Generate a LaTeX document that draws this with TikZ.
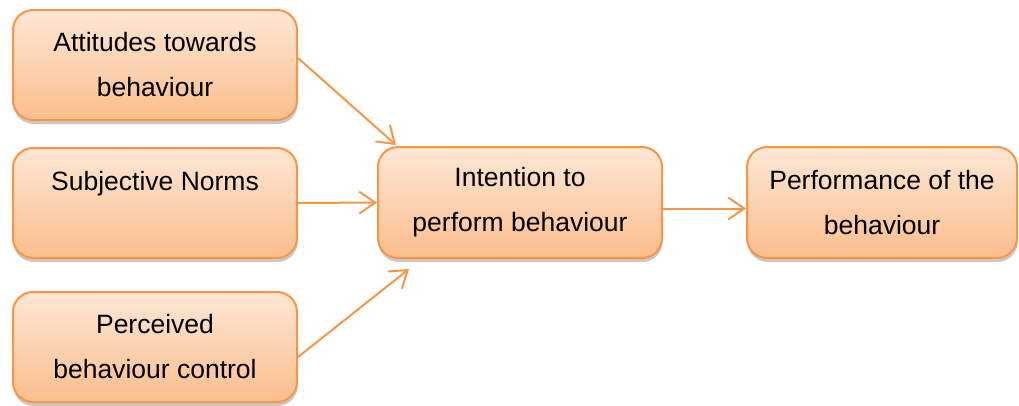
\documentclass[tikz,border=0pt]{standalone}
\usepackage{fontspec}
\setmainfont{Liberation Sans}
\usetikzlibrary{arrows.meta,shadows,calc}
\definecolor{boxedge}{HTML}{F79646}
\definecolor{boxtop}{HTML}{FDE7D5}
\definecolor{boxbot}{HTML}{FBBE8C}
\tikzset{
  tbox/.style={draw=boxedge, line width=2pt, rounded corners=20pt,
    top color=boxtop, bottom color=boxbot, inner sep=0pt,
    align=center, font=\fontsize{26.5pt}{45pt}\selectfont,
    drop shadow={shadow xshift=0.5pt, shadow yshift=-4pt, opacity=0.3, fill=black!70}},
  conn/.style={draw=boxedge, line width=2pt, -{Straight Barb[length=16pt,width=22pt,line width=2pt]}}
}
\begin{document}
\begin{tikzpicture}[x=1pt,y=-1pt]
\useasboundingbox (0,0) rectangle (1019,405);
\node[tbox, minimum width=284pt, minimum height=110pt] (A) at (155,65) {Attitudes towards\\behaviour};
\node[tbox, minimum width=284pt, minimum height=110pt] (B) at (155,203) {Subjective Norms\\~};
\node[tbox, minimum width=284pt, minimum height=110pt] (C) at (155,347) {Perceived\\behaviour control};
\node[tbox, minimum width=284pt, minimum height=111pt] (D) at (520,202.5) {\rule{0pt}{0pt}\raisebox{-2pt}{Intention to}\\\raisebox{-2pt}{perform behaviour}};
\node[tbox, minimum width=270pt, minimum height=111pt] (E) at (882,202.5) {Performance of the\\behaviour};
\draw[conn] ([yshift=7pt]A.east) -- ([xshift=19pt,yshift=1pt]D.north west);
\draw[conn] (B.east) -- (D.west);
\draw[conn] ([yshift=-10pt]C.east) -- ([xshift=32pt,yshift=-10pt]D.south west);
\draw[conn] ([yshift=-6pt]D.east) -- ([yshift=-6pt]E.west);
\end{tikzpicture}
\end{document}
